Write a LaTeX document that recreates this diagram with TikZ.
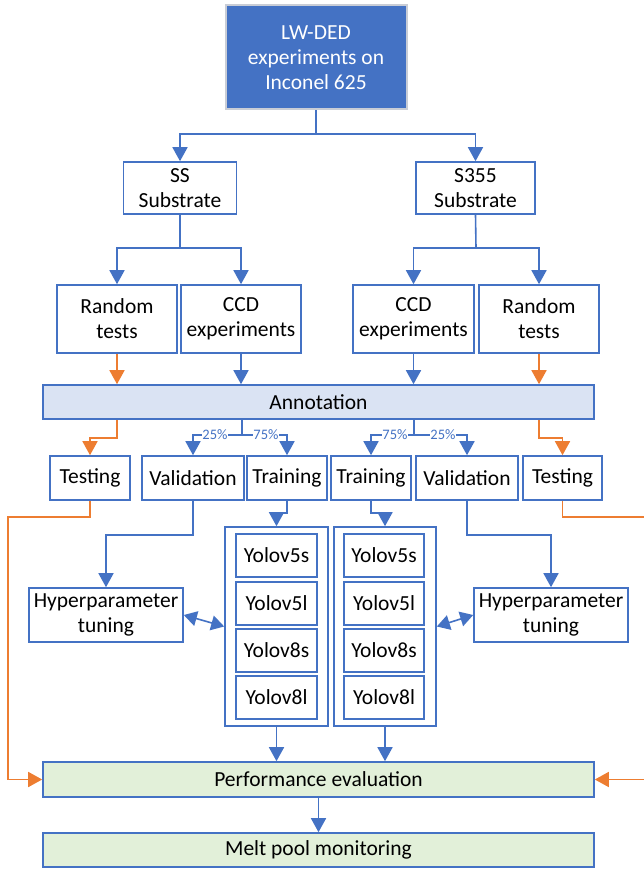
\documentclass[tikz,border=0pt]{standalone}
\usepackage{fontspec}
\setmainfont{Carlito}
\usetikzlibrary{arrows.meta}
\definecolor{mblue}{HTML}{4472C4}
\definecolor{morange}{HTML}{ED7D31}
\definecolor{annfill}{HTML}{DAE3F3}
\definecolor{grfill}{HTML}{E2F0D9}
\definecolor{topborder}{HTML}{C9CDD6}
\begin{document}
\begin{tikzpicture}[x=1pt,y=-1pt,
  box/.style={draw=mblue,line width=1.6pt,fill=white,inner sep=0pt,align=center,
              font=\fontsize{21.5}{25}\selectfont},
  topbox/.style={box,draw=topborder,line width=2pt,fill=mblue,text=white},
  annbox/.style={box,fill=annfill},
  grbox/.style={box,fill=grfill},
  pct/.style={fill=white,inner sep=0.6pt,text=mblue,font=\fontsize{14.5}{16}\selectfont},
  ln/.style={draw=mblue,line width=1.6pt},
  arr/.style={ln,-{Triangle[width=15pt,length=14pt]}},
  oarr/.style={draw=morange,line width=1.6pt,-{Triangle[width=15pt,length=14pt]}},
  darr/.style={ln,{Triangle[width=15pt,length=13pt]}-{Triangle[width=15pt,length=13pt]}}
]
\useasboundingbox (0,0) rectangle (643,869);

% nodes
\node[topbox,minimum width=181pt,minimum height=104pt] (top) at (316,57.5) {LW-DED\\experiments on\\Inconel 625};
\node[box,minimum width=113pt,minimum height=52pt] (ss) at (180,188) {SS\\Substrate};
\node[box,minimum width=119pt,minimum height=52pt] (s355) at (475.5,188) {S355\\Substrate};

\node[box,minimum width=120pt,minimum height=68pt] (rl) at (117,319) {Random\\tests};
\node[box,minimum width=120pt,minimum height=68pt] (cl) at (241,319) {CCD\\experiments};
\node[box,minimum width=121pt,minimum height=68pt] (cr) at (413.5,319) {CCD\\experiments};
\node[box,minimum width=120pt,minimum height=68pt] (rr) at (539,319) {Random\\tests};

\node[annbox,minimum width=551pt,minimum height=34pt] (ann) at (318.5,402) {Annotation};

\node[box,minimum width=80pt,minimum height=44pt] (tl) at (90,478) {Testing};
\node[box,minimum width=102pt,minimum height=44pt] (vl) at (193,478) {Validation};
\node[box,minimum width=80pt,minimum height=44pt] (trl) at (287,478) {Training};
\node[box,minimum width=80pt,minimum height=44pt] (trr) at (371,478) {Training};
\node[box,minimum width=102pt,minimum height=44pt] (vr) at (467,478) {Validation};
\node[box,minimum width=79pt,minimum height=44pt] (tr) at (562.5,478) {Testing};

\node[box,minimum width=154pt,minimum height=54pt] (hl) at (106,615) {Hyperparameter\\tuning};
\node[box,minimum width=154pt,minimum height=54pt] (hr) at (551,615) {Hyperparameter\\tuning};

\node[box,minimum width=103pt,minimum height=199pt] (contL) at (276.5,626.5) {};
\node[box,minimum width=102pt,minimum height=199pt] (contR) at (385,626.5) {};

\node[box,minimum width=81pt,minimum height=43pt] (l5s) at (276.5,555.5) {Yolov5s};
\node[box,minimum width=81pt,minimum height=43pt] (l5l) at (276.5,603.5) {Yolov5l};
\node[box,minimum width=81pt,minimum height=43pt] (l8s) at (276.5,650.5) {Yolov8s};
\node[box,minimum width=81pt,minimum height=43pt] (l8l) at (276.5,697.5) {Yolov8l};
\node[box,minimum width=80pt,minimum height=43pt] (r5s) at (384,555.5) {Yolov5s};
\node[box,minimum width=80pt,minimum height=43pt] (r5l) at (384,603.5) {Yolov5l};
\node[box,minimum width=80pt,minimum height=43pt] (r8s) at (384,650.5) {Yolov8s};
\node[box,minimum width=80pt,minimum height=43pt] (r8l) at (384,697.5) {Yolov8l};

\node[grbox,minimum width=551pt,minimum height=35pt] (perf) at (318.5,779.5) {Performance evaluation};
\node[grbox,minimum width=551pt,minimum height=34pt] (melt) at (318.5,850) {Melt pool monitoring};

% junctions
\coordinate (j1) at (316,134);
\coordinate (j2) at (180,248);
\coordinate (j3) at (476,248);
\coordinate (j4) at (242,435);
\coordinate (j5) at (414,435);
\coordinate (ol) at (8,517);
\coordinate (or) at (645,517);

% top split
\draw[ln] (top.south) -- (j1);
\draw[arr] (j1) -| (ss.north);
\draw[arr] (j1) -| (s355.north);

% substrate splits
\draw[ln] (ss.south) -- (j2);
\draw[arr] (j2) -| (rl.north);
\draw[arr] (j2) -| (cl.north);
\draw[ln] (s355.south) -- (j3);
\draw[arr] (j3) -| (cr.north);
\draw[arr] (j3) -| (rr.north);

% into annotation
\draw[oarr] (rl.south) -- (rl.south |- ann.north);
\draw[arr] (cl.south) -- (cl.south |- ann.north);
\draw[arr] (cr.south) -- (cr.south |- ann.north);
\draw[oarr] (rr.south) -- (rr.south |- ann.north);

% out of annotation
\draw[oarr] (rl.south |- ann.south) -- ++(0,18) -| (tl.north);
\draw[oarr] (rr.south |- ann.south) -- ++(0,18) -| (tr.north);
\draw[ln] (j4 |- ann.south) -- (j4);
\draw[arr] (j4) -| (vl.north);
\draw[arr] (j4) -| (trl.north);
\draw[ln] (j5 |- ann.south) -- (j5);
\draw[arr] (j5) -| (trr.north);
\draw[arr] (j5) -| (vr.north);
\node[pct] (p25l) at (215,435) {25\%};
\node[pct] (p75l) at (266,435) {75\%};
\node[pct] (p75r) at (395,435) {75\%};
\node[pct] (p25r) at (443,435) {25\%};

% second level
\draw[arr] (vl.south) -- ++(0,34) -| (hl.north);
\draw[arr] (vr.south) -- ++(0,34) -| (hr.north);
\draw[arr] (trl.south) -- ++(0,12) -| (contL.north);
\draw[arr] (trr.south) -- ++(0,12) -| (contR.north);
\draw[darr] (hl.east) -- (contL.west);
\draw[darr] (contR.east) -- (hr.west);

% testing to performance
\draw[oarr] (tl.south) |- (ol) |- (perf.west);
\draw[oarr] (tr.south) |- (or) |- (perf.east);

% models to performance
\draw[arr] (contL.south) -- (contL.south |- perf.north);
\draw[arr] (contR.south) -- (contR.south |- perf.north);
\draw[arr] (perf.south) -- (melt.north);
\end{tikzpicture}
\end{document}
